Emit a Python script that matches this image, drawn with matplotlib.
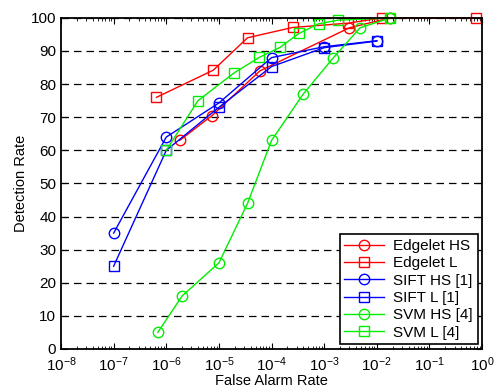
import matplotlib.pyplot as plt
from matplotlib.ticker import LogLocator, NullFormatter

plt.rcParams['font.family'] = ['Liberation Sans', 'DejaVu Sans']
plt.rcParams['mathtext.fontset'] = 'custom'
plt.rcParams['mathtext.rm'] = 'Liberation Sans'
plt.rcParams['mathtext.it'] = 'Liberation Sans'
plt.rcParams['mathtext.default'] = 'regular'

# false alarm rate / detection rate for each detector
edgelet_hs_far = [1.8e-6, 7.4e-6, 6e-5, 3e-3, 1.8e-2]
edgelet_hs_dr = [63, 70.5, 84, 97, 100]

edgelet_l_far = [6.5e-7, 7.8e-6, 3.5e-5, 2.5e-4, 2.8e-3, 1.26e-2, 0.77]
edgelet_l_dr = [76, 84.2, 94, 97.1, 98.4, 100, 100]

sift_hs_far = [1e-7, 1e-6, 1e-5, 1e-4, 1e-3, 1e-2]
sift_hs_dr = [35, 64, 74.3, 88, 91.3, 93.1]

sift_l_far = [1e-7, 1e-6, 1e-5, 1e-4, 1e-3, 1e-2]
sift_l_dr = [25, 60, 73, 85.3, 91, 93]

svm_hs_far = [6.9e-7, 2e-6, 1e-5, 3.5e-5, 1e-4, 4e-4, 1.5e-3, 4.8e-3, 1.8e-2]
svm_hs_dr = [5, 16, 26, 44, 63, 77, 88, 97, 100]

svm_l_far = [1e-6, 4e-6, 1.95e-5, 5.9e-5, 1.45e-4, 3.3e-4, 7.8e-4, 1.8e-3, 1.8e-2]
svm_l_dr = [60, 75, 83.4, 88.1, 91.1, 95.3, 98.2, 99.3, 100]

x_exponents = list(range(-8, 1))


def main():
    fig = plt.figure(figsize=(4.96, 3.89), dpi=100)
    ax = fig.add_axes([0.123, 0.103, 0.849, 0.851])

    style = dict(lw=1, ms=7.5, mfc='none', mew=1, clip_on=False, zorder=3)
    red, blue, green = '#ff0000', '#0000ff', '#00ee00'
    ax.plot(edgelet_hs_far, edgelet_hs_dr, '-o', color=red, label='Edgelet HS', **style)
    ax.plot(edgelet_l_far, edgelet_l_dr, '-s', color=red, label='Edgelet L', **style)
    ax.plot(sift_hs_far, sift_hs_dr, '-o', color=blue, label='SIFT HS [1]', **style)
    ax.plot(sift_l_far, sift_l_dr, '-s', color=blue, label='SIFT L [1]', **style)
    ax.plot(svm_hs_far, svm_hs_dr, '-o', color=green, label='SVM HS [4]', **style)
    ax.plot(svm_l_far, svm_l_dr, '-s', color=green, label='SVM L [4]', **style)

    ax.set_xscale('log')
    ax.set_xlim(1e-8, 1)
    ax.set_ylim(0, 100)
    ax.set_yticks(range(0, 101, 10))
    ax.set_xticks([10.0 ** e for e in x_exponents],
                  ['$10^{%d}$' % e for e in x_exponents])
    ax.xaxis.set_minor_locator(LogLocator(base=10, subs=range(2, 10), numticks=12))
    ax.xaxis.set_minor_formatter(NullFormatter())
    ax.yaxis.grid(True, linestyle=(0, (6, 4)), color='black', lw=0.9)
    ax.tick_params(which='both', direction='in', top=True, right=True,
                   labelsize=11, colors='black')
    ax.tick_params(axis='x', pad=5)
    ax.tick_params(which='major', length=4)
    ax.tick_params(which='minor', length=2)
    for sp in ax.spines.values():
        sp.set_linewidth(1.3)
        sp.set_zorder(4)

    ax.set_xlabel('False Alarm Rate', fontsize=10.5, labelpad=0)
    ax.set_ylabel('Detection Rate', fontsize=10.5, labelpad=2)

    leg = ax.legend(loc='lower right', fontsize=11, fancybox=False, framealpha=1,
                    edgecolor='black', handlelength=2.6, borderpad=0.3,
                    labelspacing=0.22, borderaxespad=0.3, handletextpad=0.6)
    leg.get_frame().set_linewidth(1.2)
    leg.set_zorder(5)

    fig.savefig('out.png', dpi=100)


if __name__ == "__main__":
    main()
